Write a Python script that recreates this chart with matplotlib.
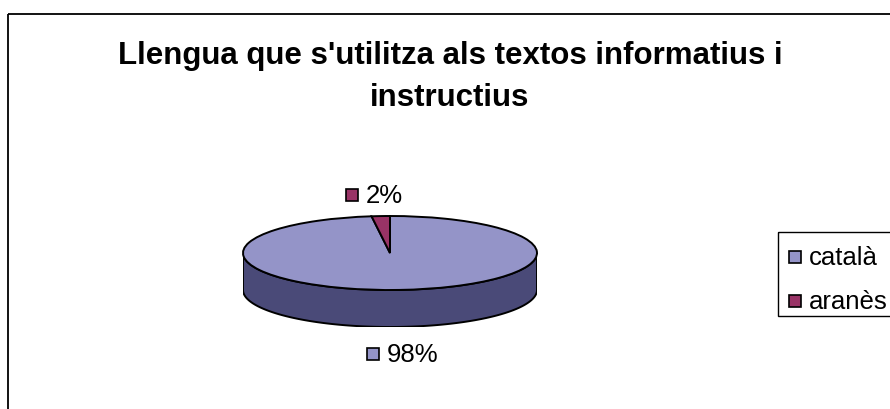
import numpy as np
import matplotlib
matplotlib.use('Agg')
import matplotlib.pyplot as plt
from matplotlib.patches import Rectangle, Polygon

plt.rcParams['font.family'] = ['Liberation Sans', 'DejaVu Sans']

# data
languages = ['català', 'aranès']
shares = [98, 2]
title = "Llengua que s'utilitza als textos informatius i\ninstructius"

top_colors = ['#9494c8', '#993366']
side_color = '#4a4a78'

W, H = 890, 410
fig = plt.figure(figsize=(W / 100, H / 100), dpi=100)

# full-figure axes in pixel units for the frame, title and labels
bg = fig.add_axes([0, 0, 1, 1])
bg.set_xlim(0, W)
bg.set_ylim(H, 0)
bg.axis('off')
bg.add_patch(Rectangle((8, 15), W + 10, H, fill=False, ec='black', lw=1.3))
bg.text(450, 77, title, ha='center', va='center', fontsize=22.5,
        fontweight='bold', linespacing=1.55)

# pie geometry (pixels)
cx, cy, rx, ry, depth = 390, 254, 147, 37, 37
pie_ax = fig.add_axes([(cx - rx) / W, (H - (cy + ry + depth)) / H,
                       2 * rx / W, (2 * ry + depth) / H])

# side of the cylinder (front half)
d = depth / ry
t = np.linspace(np.pi, 2 * np.pi, 200)
xs = np.concatenate([np.cos(t), np.cos(t[::-1])])
ys = np.concatenate([np.sin(t) - d, np.sin(t[::-1])])
pie_ax.add_patch(Polygon(np.column_stack([xs, ys]), closed=True,
                         fc=side_color, ec='black', lw=1.4))

# top face
pie_ax.pie(shares, colors=top_colors, startangle=90, counterclock=False,
           radius=1, wedgeprops=dict(ec='black', lw=1.4))
pie_ax.set_aspect('auto')
pie_ax.set_xlim(-1, 1)
pie_ax.set_ylim(-1 - d, 1)
pie_ax.axis('off')

# percentage labels
total = sum(shares)
label_pos = {'aranès': (352, 196), 'català': (373, 355)}
for name, val, col in zip(languages, shares, top_colors):
    lx, ly = label_pos[name]
    bg.add_patch(Rectangle((lx - 6, ly - 6), 12, 12, fc=col, ec='black', lw=1.2))
    bg.text(lx + 14, ly, f'{val / total * 100:.0f}%', ha='left',
            va='center', fontsize=18.5)

# legend
bg.add_patch(Rectangle((778, 233), 120, 84, fill=False, ec='black', lw=1))
for i, (name, col) in enumerate(zip(languages, top_colors)):
    ly = 258 + i * 44
    bg.add_patch(Rectangle((789, ly - 6), 12, 12, fc=col, ec='black', lw=1.2))
    bg.text(809, ly, name, ha='left', va='center', fontsize=18.5)

fig.savefig('out.png', dpi=100)
